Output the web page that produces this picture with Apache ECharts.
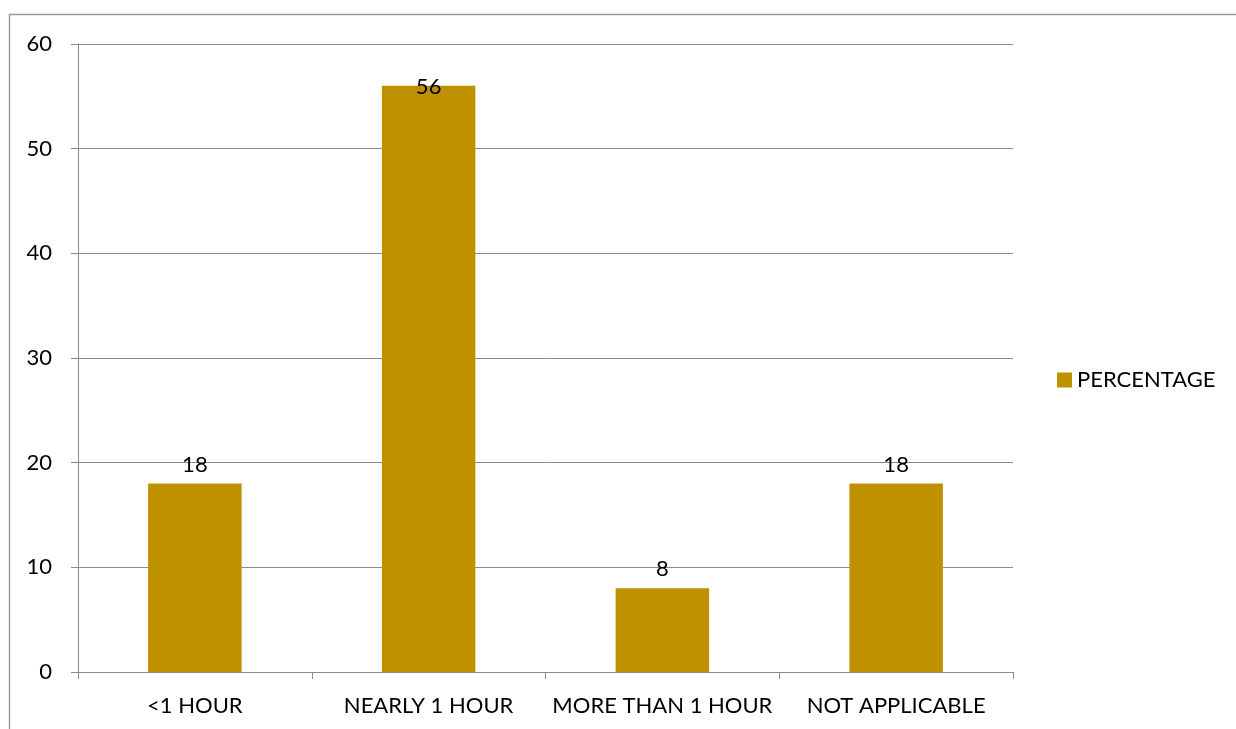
<!DOCTYPE html>
<html>
<head>
<meta charset="utf-8">
<script src="https://cdn.jsdelivr.net/npm/echarts@6/dist/echarts.min.js"></script>
<style>
  html, body { margin: 0; padding: 0; background: #fff; }
  #chart { width: 1236px; height: 729px; }
</style>
</head>
<body>
<div id="chart"></div>
<script>
// Time spent: share of respondents per category
const categories = ['<1 HOUR', 'NEARLY 1 HOUR', 'MORE THAN 1 HOUR', 'NOT APPLICABLE'];
const percentage = [18, 56, 8, 18];
const yTicks = [0, 10, 20, 30, 40, 50, 60];

const FONT = 'Lato, "Open Sans", sans-serif';
const FS = 22;
const BAR = '#bf9000';
const LINE = '#8c8c8c';

const chart = echarts.init(document.getElementById('chart'), null, { renderer: 'canvas' });

chart.setOption({
  animation: false,
  backgroundColor: '#fff',
  textStyle: { fontFamily: FONT },
  graphic: [{
    type: 'rect',
    shape: { x: 9.5, y: 14.5, width: 1300, height: 800 },
    style: { fill: 'none', stroke: '#9a9a9a', lineWidth: 1.5 },
    silent: true
  }],
  legend: {
    orient: 'vertical',
    left: 1052,
    top: 364,
    padding: 5,
    itemWidth: 15,
    itemHeight: 15,
    itemGap: 6,
    icon: 'rect',
    textStyle: { fontFamily: FONT, fontSize: FS, color: '#000' },
    data: ['PERCENTAGE']
  },
  grid: { left: 78, top: 44, width: 935, height: 628, containLabel: false },
  xAxis: {
    type: 'category',
    data: categories,
    axisLine: { lineStyle: { color: LINE, width: 1 } },
    axisTick: { show: true, length: 7, alignWithLabel: false, lineStyle: { color: LINE } },
    axisLabel: { fontFamily: FONT, fontSize: FS, color: '#000', margin: 23, interval: 0 }
  },
  yAxis: {
    type: 'value',
    min: yTicks[0],
    max: yTicks[yTicks.length - 1],
    interval: 10,
    axisLine: { show: true, lineStyle: { color: LINE, width: 1 } },
    axisTick: { show: true, length: 7, lineStyle: { color: LINE } },
    splitLine: { show: true, lineStyle: { color: LINE, width: 1 } },
    axisLabel: { fontFamily: FONT, fontSize: FS, color: '#000', margin: 26 }
  },
  series: [{
    name: 'PERCENTAGE',
    type: 'bar',
    barWidth: '40%',
    itemStyle: { color: BAR },
    label: {
      show: true,
      position: 'top',
      distance: 8,
      fontFamily: FONT,
      fontSize: FS,
      color: '#000'
    },
    data: percentage.map(function (v) {
      // the tallest bar carries its label straddling the bar top
      if (v === Math.max.apply(null, percentage)) {
        return { value: v, label: { offset: [0, 20] } };
      }
      return v;
    })
  }]
});
</script>
</body>
</html>
